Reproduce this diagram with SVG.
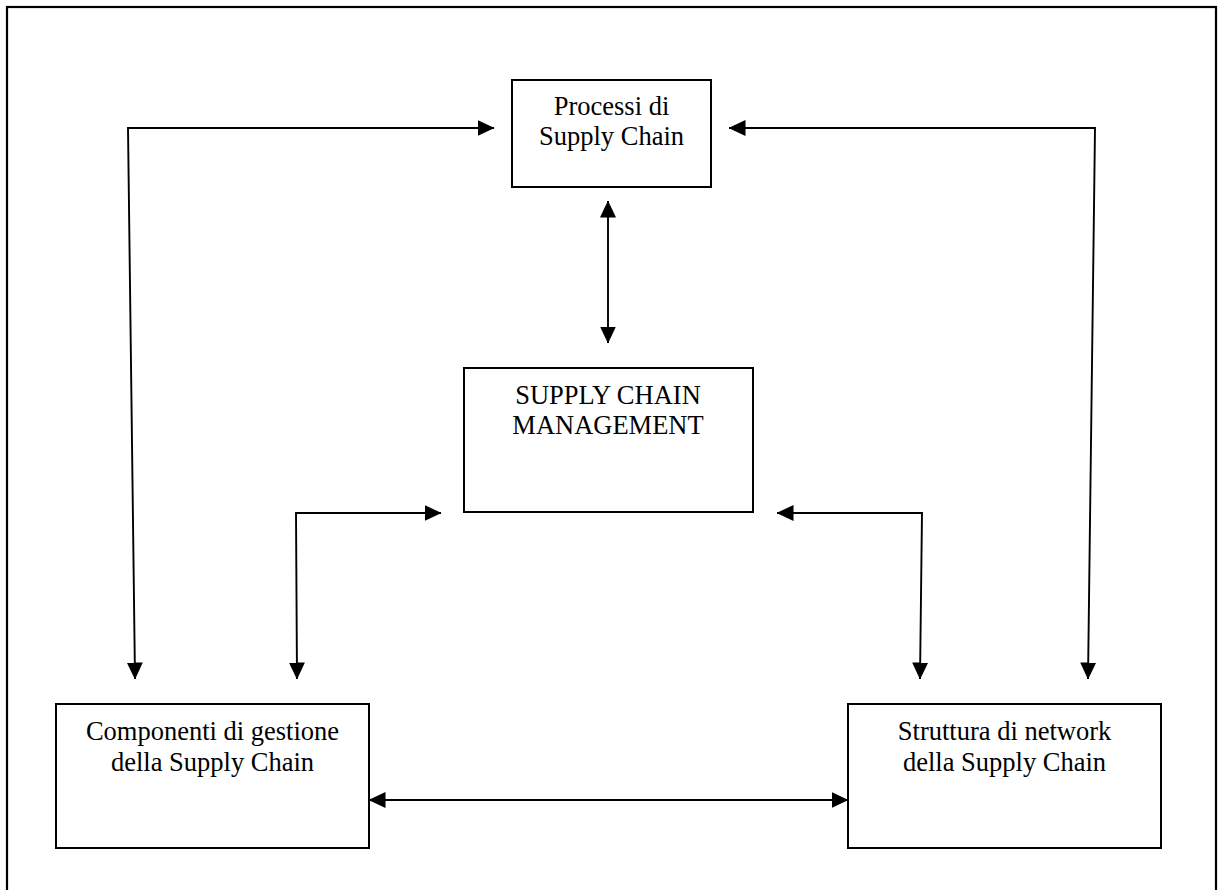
<svg xmlns="http://www.w3.org/2000/svg" width="1219" height="890" viewBox="0 0 1219 890">
  <style>
    .frame { fill: none; stroke: #000; stroke-width: 2.2; }
    .box { fill: #fff; stroke: #000; stroke-width: 2; }
    .label { font-family: "Liberation Serif", "Times New Roman", serif; font-size: 26.5px; fill: #000; text-anchor: middle; }
    .conn { fill: none; stroke: #000; stroke-width: 1.9; }
    .two { marker-start: url(#head); marker-end: url(#head); }
  </style>
  <defs>
    <marker id="head" viewBox="0 0 17 16" refX="16.5" refY="8" markerWidth="17" markerHeight="16" markerUnits="userSpaceOnUse" orient="auto-start-reverse">
      <path d="M0,0 L17,8 L0,16 Z" fill="#000"/>
    </marker>
  </defs>

  <rect width="1219" height="890" fill="#fff"/>
  <!-- page frame, open at the bottom -->
  <rect class="frame" x="7" y="7" width="1209" height="900"/>

  <g id="nodes">
    <g id="processi">
      <rect class="box" x="512" y="80" width="199" height="107"/>
      <text class="label" x="611.5" y="114.5">Processi di</text>
      <text class="label" x="611.5" y="145">Supply Chain</text>
    </g>
    <g id="scm">
      <rect class="box" x="464" y="368" width="289" height="144"/>
      <text class="label" x="608" y="403.5">SUPPLY CHAIN</text>
      <text class="label" x="608" y="433.5">MANAGEMENT</text>
    </g>
    <g id="componenti">
      <rect class="box" x="56" y="704" width="313" height="144"/>
      <text class="label" x="212.5" y="740">Componenti di gestione</text>
      <text class="label" x="212.5" y="770.5">della Supply Chain</text>
    </g>
    <g id="struttura">
      <rect class="box" x="848" y="704" width="313" height="144"/>
      <text class="label" x="1004.5" y="740">Struttura di network</text>
      <text class="label" x="1004.5" y="770.5">della Supply Chain</text>
    </g>
  </g>

  <g id="connectors">
    <!-- Processi <-> SCM -->
    <path class="conn two" d="M608,201 L608,343"/>
    <!-- Processi <-> Componenti -->
    <path class="conn two" d="M494,128 L128,128 L135,679"/>
    <!-- Processi <-> Struttura -->
    <path class="conn two" d="M729,128 L1095,128 L1088,679"/>
    <!-- SCM <-> Componenti -->
    <path class="conn two" d="M441,513 L296,513 L297,679"/>
    <!-- SCM <-> Struttura -->
    <path class="conn two" d="M777,513 L922,513 L920,679"/>
    <!-- Componenti <-> Struttura -->
    <path class="conn two" d="M369,800 L848,800"/>
  </g>
</svg>
